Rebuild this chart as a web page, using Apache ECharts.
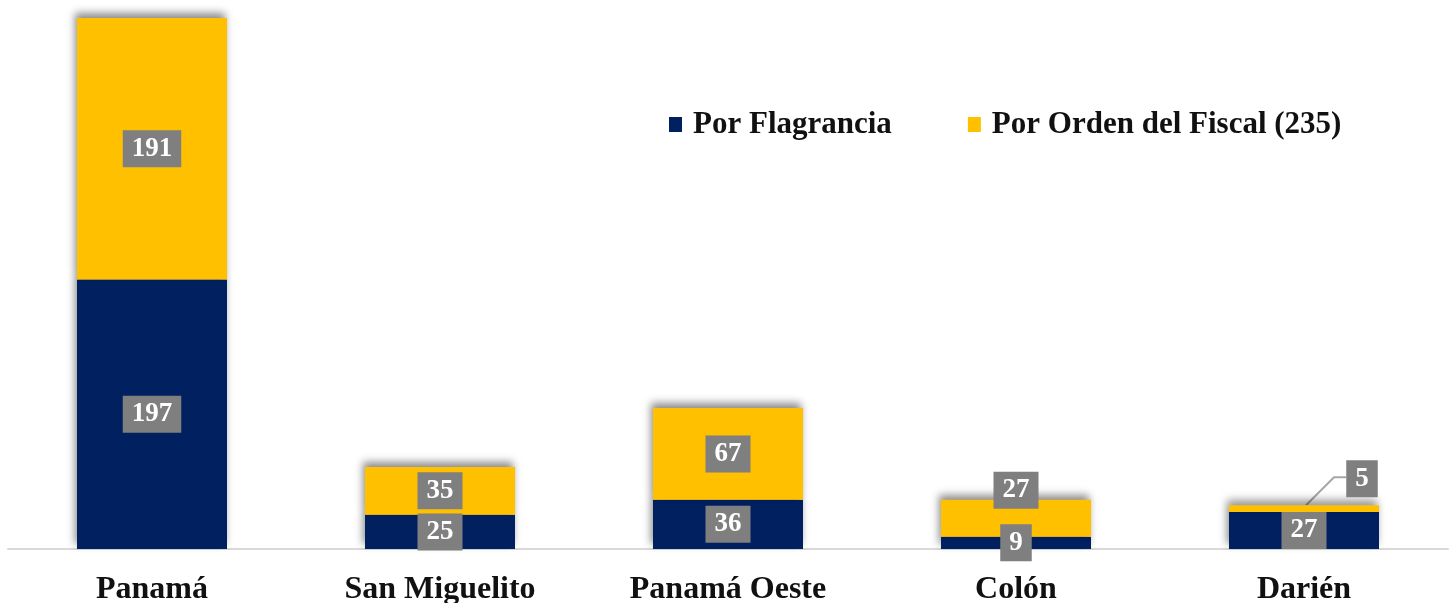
<!DOCTYPE html>
<html>
<head>
<meta charset="utf-8">
<style>
  html, body { margin: 0; padding: 0; background: #fff; }
  #chart { width: 1453px; height: 603px; }
</style>
<script src="https://cdn.jsdelivr.net/npm/echarts@6/dist/echarts.min.js"></script>
</head>
<body>
<div id="chart"></div>
<script>
const categories = ['Panamá', 'San Miguelito', 'Panamá Oeste', 'Colón', 'Darién']
const flagrancia = [197, 25, 36, 9, 27]
const ordenFiscal = [191, 35, 67, 27, 5]
const seriesNames = ['Por Flagrancia', 'Por Orden del Fiscal (235)']

const FONT = '"Liberation Serif", "DejaVu Serif", serif'

// caja gris de las etiquetas de datos
const dataLabel = {
  show: true,
  position: 'inside',
  color: '#fff',
  fontFamily: FONT,
  fontWeight: 'bold',
  fontSize: 27,
  lineHeight: 27,
  backgroundColor: '#7f7f7f',
  padding: [6, 9, 4, 9]
}

const barShadow = {
  shadowColor: 'rgba(0, 0, 0, 0.45)',
  shadowBlur: 8,
  shadowOffsetX: -2,
  shadowOffsetY: -5
}

const chart = echarts.init(document.getElementById('chart'))
chart.setOption({
  animation: false,
  legend: {
    top: 104,
    left: 664,
    itemGap: 76,
    itemWidth: 13,
    itemHeight: 15,
    icon: 'rect',
    textStyle: {
      fontFamily: FONT,
      fontWeight: 'bold',
      fontSize: 31,
      color: '#111',
      padding: [0, 0, 0, 6]
    },
    data: seriesNames
  },
  grid: {
    left: 8,
    right: 5,
    top: 18,
    bottom: 54,
    outerBoundsMode: 'none'
  },
  xAxis: {
    type: 'category',
    data: categories,
    axisTick: { show: false },
    axisLine: { lineStyle: { color: '#d9d9d9', width: 2 } },
    axisLabel: {
      color: '#111',
      fontFamily: FONT,
      fontWeight: 'bold',
      fontSize: 32,
      margin: 25
    }
  },
  yAxis: {
    type: 'value',
    min: 0,
    max: 388,
    show: false,
    splitLine: { show: false }
  },
  series: [
    {
      name: seriesNames[0],
      type: 'bar',
      stack: 'total',
      barWidth: 150,
      data: flagrancia,
      itemStyle: Object.assign({ color: '#002060' }, barShadow),
      label: dataLabel
    },
    {
      name: seriesNames[1],
      type: 'bar',
      stack: 'total',
      barWidth: 150,
      data: ordenFiscal,
      itemStyle: Object.assign({ color: '#ffc000' }, barShadow),
      label: dataLabel,
      labelLayout: (params) => {
        if (params.dataIndex === 3) return { dy: -28 }
        if (params.dataIndex === 4) return { dx: 58, dy: -30 }
        return {}
      }
    }
  ]
})

// línea guía de la etiqueta "5" (Darién), desde el tope de la barra
const barTop = chart.convertToPixel({ xAxisIndex: 0, yAxisIndex: 0 },
  [categories[4], flagrancia[4] + ordenFiscal[4]])
chart.setOption({
  graphic: [{
    type: 'polyline',
    z: 1,
    shape: { points: [[barTop[0] + 2, barTop[1]], [barTop[0] + 30, barTop[1] - 28], [barTop[0] + 42, barTop[1] - 28]] },
    style: { stroke: '#a6a6a6', lineWidth: 2, fill: null }
  }]
})
</script>
</body>
</html>
